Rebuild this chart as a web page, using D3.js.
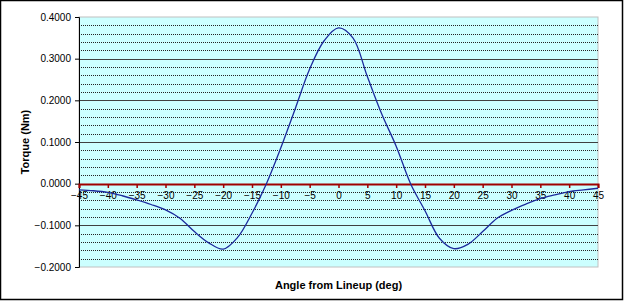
<!DOCTYPE html>
<html>
<head>
<meta charset="utf-8">
<script src="https://cdn.jsdelivr.net/npm/d3@7"></script>
<style>
  body { margin: 0; background: #fff; }
  svg { display: block; font-family: "Liberation Sans", Arial, sans-serif; }
</style>
</head>
<body>
<svg width="624" height="301"></svg>
<script>
// angle (deg) and torque (Nm)
const angles = [-45, -42.5, -40, -37.5, -35, -32.5, -30, -27.5, -25, -22.5, -20, -17.5, -15, -12.5, -10,
  -7.5, -5, -2.5, 0, 2.5, 5, 7.5, 10, 12.5, 15, 17.5, 20, 22.5, 25, 27.5, 30, 32.5, 35, 37.5, 40, 42.5, 45];
const torque = [-0.015, -0.017, -0.021, -0.029, -0.039, -0.050, -0.063, -0.083, -0.115, -0.142, -0.157, -0.129, -0.071, 0.000, 0.086,
  0.180, 0.275, 0.343, 0.374, 0.350, 0.257, 0.167, 0.090, 0.000, -0.065, -0.131, -0.156, -0.145, -0.115, -0.083, -0.064, -0.049, -0.036, -0.027, -0.019, -0.015, -0.011];
const xTicks = d3.range(-45, 46, 5);
const yTicks = [-0.2, -0.1, 0, 0.1, 0.2, 0.3, 0.4];

const svg = d3.select("svg");
const plotL = 79, plotR = 598, plotT = 17, plotB = 267;

svg.append("rect")
  .attr("x", 0.5).attr("y", 0.5).attr("width", 622).attr("height", 299)
  .attr("fill", "#fff").attr("stroke", "#000").attr("stroke-width", 1.5);

const x = d3.scaleLinear().domain([-45, 45]).range([plotL, plotR]);
const y = d3.scaleLinear().domain([-0.2, 0.4]).range([plotB, plotT]);

// plot area
svg.append("rect")
  .attr("x", plotL).attr("y", plotT).attr("width", plotR - plotL).attr("height", plotB - plotT)
  .attr("fill", "#ccffff").attr("stroke", "#c0c0c0").attr("stroke-width", 1);

// minor gridlines
const minor = d3.range(-0.2, 0.4001, 0.02).filter(v => Math.abs(Math.round(v * 50) % 5) !== 0);
svg.append("g").selectAll("line").data(minor).join("line")
  .attr("x1", plotL).attr("x2", plotR)
  .attr("y1", d => Math.round(y(d)) + 0.5).attr("y2", d => Math.round(y(d)) + 0.5)
  .attr("stroke", "#222").attr("stroke-dasharray", "1,1");

// major gridlines
svg.append("g").selectAll("line").data(yTicks.filter(v => v !== 0 && v !== 0.4 && v !== -0.2)).join("line")
  .attr("x1", plotL).attr("x2", plotR)
  .attr("y1", d => Math.round(y(d)) + 0.5).attr("y2", d => Math.round(y(d)) + 0.5)
  .attr("stroke", "#404040");

// y axis
const yAxis = svg.append("g")
  .attr("transform", `translate(${plotL},0)`)
  .call(d3.axisLeft(y).tickValues(yTicks).tickFormat(d3.format(".4f")).tickSize(4).tickPadding(4));
yAxis.select(".domain").attr("stroke", "#000");
yAxis.selectAll("text").attr("font-size", 10).attr("font-family", "Liberation Sans, Arial, sans-serif").attr("fill", "#000")
  .text(d => d3.format(".4f")(d).replace("-", "\u2212"));

// x axis on zero line
const xAxis = svg.append("g")
  .attr("transform", `translate(0,${Math.round(y(0))})`)
  .call(d3.axisBottom(x).tickValues(xTicks).tickSize(4).tickPadding(4));
xAxis.select(".domain").attr("stroke", "#a00000").attr("stroke-width", 2);
xAxis.selectAll(".tick line").attr("stroke", "#a00000").attr("stroke-width", 1.5);
xAxis.selectAll("text").attr("font-size", 10).attr("font-family", "Liberation Sans, Arial, sans-serif").attr("fill", "#000");

// torque curve
const line = d3.line().x((d, i) => x(angles[i])).y(d => y(d)).curve(d3.curveCatmullRom);
svg.append("path").datum(torque)
  .attr("d", line)
  .attr("fill", "none").attr("stroke", "#1c2a9c").attr("stroke-width", 1.3);

// titles
svg.append("text")
  .attr("x", (plotL + plotR) / 2).attr("y", 289)
  .attr("text-anchor", "middle").attr("font-size", 11).attr("font-weight", "bold")
  .text("Angle from Lineup (deg)");
svg.append("text")
  .attr("transform", `translate(29,${(plotT + plotB) / 2}) rotate(-90)`)
  .attr("text-anchor", "middle").attr("font-size", 11).attr("font-weight", "bold")
  .text("Torque (Nm)");
</script>
</body>
</html>
